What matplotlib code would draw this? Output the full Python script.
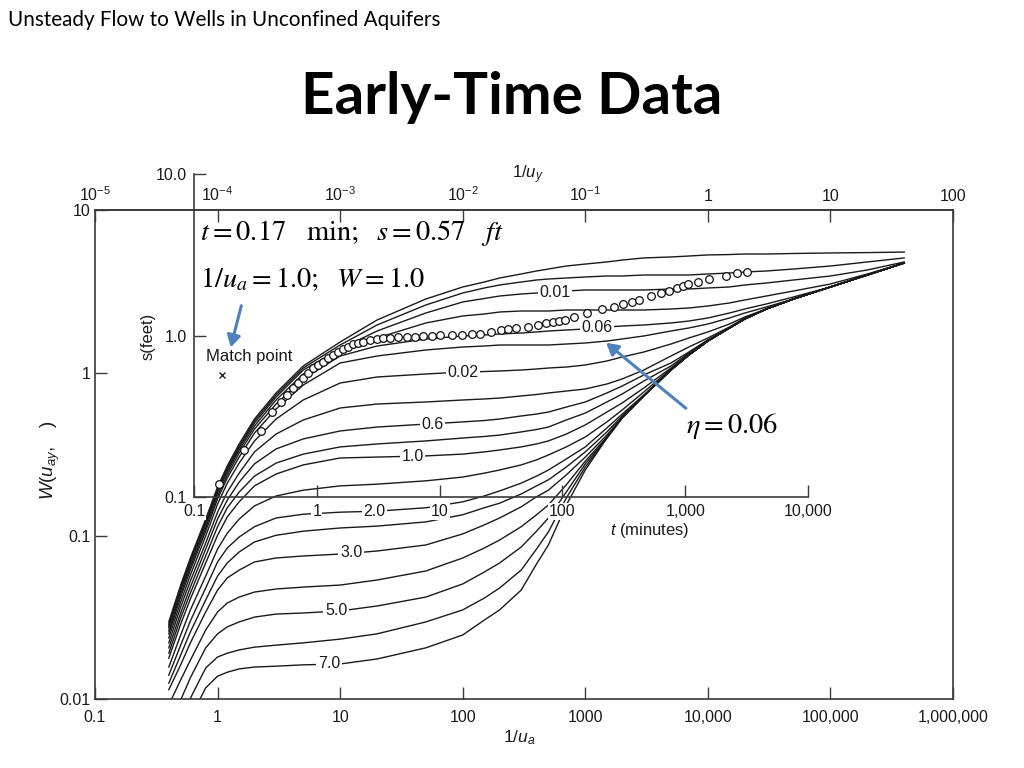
import matplotlib
matplotlib.use("Agg")
import matplotlib.pyplot as plt
from matplotlib.ticker import NullLocator
from matplotlib.patches import FancyArrowPatch

plt.rcParams['font.family'] = ['Liberation Sans', 'DejaVu Sans']
plt.rcParams['mathtext.fontset'] = 'custom'
plt.rcParams['mathtext.rm'] = 'Liberation Sans'
plt.rcParams['mathtext.it'] = 'Liberation Sans:italic'
plt.rcParams['mathtext.bf'] = 'Liberation Sans:bold'

# ---------------- data ----------------
inv_ua = [0.4, 0.5, 0.6, 0.8, 1, 1.2, 1.5, 2, 3, 5, 10,
          20, 50, 100, 150, 200, 300, 400, 500, 700, 1000,
          1500, 2000, 3000, 5000, 7000, 1e4, 1.5e4, 2e4, 3e4, 5e4, 1e5, 2e5, 4e5]

w_eta_0_001 = [0.0297, 0.0500, 0.0733, 0.127, 0.200, 0.269, 0.367, 0.522, 0.754, 1.104, 1.549,
               2.114, 2.844, 3.371, 3.616, 3.826, 4.050, 4.225, 4.345, 4.532, 4.66,
               4.80, 4.93, 5.08, 5.15, 5.22, 5.30, 5.33, 5.37, 5.37, 5.41, 5.45, 5.48, 5.52]
w_eta_0_004 = [0.0288, 0.0486, 0.0712, 0.124, 0.194, 0.261, 0.356, 0.508, 0.733, 1.073, 1.485,
               1.970, 2.614, 3.096, 3.323, 3.467, 3.616, 3.72, 3.773, 3.826, 3.882,
               3.937, 3.937, 3.993, 3.993, 3.993, 4.050, 4.107, 4.165, 4.225, 4.345, 4.532, 4.80, 5.08]
w_eta_0_01 = [0.0280, 0.0473, 0.0693, 0.120, 0.189, 0.254, 0.347, 0.493, 0.712, 1.043, 1.404,
              1.810, 2.334, 2.727, 2.865, 2.967, 3.052, 3.096, 3.140, 3.185, 3.230,
              3.230, 3.230, 3.230, 3.276, 3.276, 3.323, 3.371, 3.467, 3.566, 3.72, 3.937, 4.285, 4.80]
w_eta_0_03 = [0.0273, 0.0460, 0.0673, 0.117, 0.184, 0.247, 0.337, 0.473, 0.683, 0.986, 1.326,
              1.640, 2.027, 2.238, 2.301, 2.367, 2.401, 2.401, 2.401, 2.435, 2.435,
              2.435, 2.435, 2.435, 2.470, 2.505, 2.576, 2.689, 2.805, 2.967, 3.185, 3.516, 4.050, 4.73]
w_eta_0_06 = [0.0261, 0.0441, 0.0645, 0.112, 0.176, 0.237, 0.323, 0.453, 0.645, 0.919, 1.271,
              1.464, 1.617, 1.687, 1.711, 1.735, 1.759, 1.785, 1.810, 1.836, 1.862,
              1.915, 1.942, 1.970, 2.027, 2.084, 2.175, 2.334, 2.470, 2.651, 2.927, 3.371, 3.993, 4.73]
w_eta_0_1 = [0.0251, 0.0422, 0.0618, 0.107, 0.169, 0.227, 0.305, 0.428, 0.601, 0.844, 1.152,
             1.271, 1.384, 1.444, 1.464, 1.485, 1.485, 1.485, 1.485, 1.506, 1.528,
             1.571, 1.617, 1.687, 1.810, 1.889, 1.998, 2.175, 2.334, 2.541, 2.844, 3.371, 3.993, 4.73]
w_eta_0_2 = [0.0237, 0.0394, 0.0576, 0.100, 0.157, 0.211, 0.280, 0.383, 0.522, 0.683, 0.868,
             0.945, 0.986, 1.014, 1.021, 1.029, 1.043, 1.058, 1.073, 1.088, 1.120,
             1.185, 1.254, 1.345, 1.506, 1.640, 1.785, 1.998, 2.206, 2.470, 2.844, 3.371, 3.993, 4.73]
w_eta_0_4 = [0.0221, 0.0367, 0.0530, 0.0906, 0.140, 0.186, 0.243, 0.328, 0.422, 0.515, 0.610,
             0.645, 0.664, 0.683, 0.693, 0.702, 0.723, 0.738, 0.754, 0.775, 0.798,
             0.856, 0.919, 1.043, 1.271, 1.444, 1.640, 1.915, 2.175, 2.470, 2.844, 3.371, 3.993, 4.73]
w_eta_0_6 = [0.0206, 0.0337, 0.0486, 0.0832, 0.127, 0.166, 0.214, 0.277, 0.342, 0.394, 0.441,
             0.466, 0.486, 0.501, 0.511, 0.522, 0.545, 0.560, 0.576, 0.618, 0.664,
             0.754, 0.832, 0.972, 1.152, 1.345, 1.594, 1.889, 2.145, 2.470, 2.844, 3.371, 3.993, 4.73]
w_eta_0_8 = [0.0191, 0.0314, 0.0447, 0.0754, 0.114, 0.149, 0.186, 0.233, 0.280, 0.318, 0.352,
             0.367, 0.383, 0.399, 0.408, 0.416, 0.435, 0.450, 0.466, 0.515, 0.568,
             0.664, 0.743, 0.893, 1.104, 1.326, 1.594, 1.889, 2.145, 2.470, 2.844, 3.371, 3.993, 4.73]
w_eta_1_0 = [0.0178, 0.0288, 0.0411, 0.0683, 0.101, 0.131, 0.162, 0.203, 0.240, 0.273, 0.301,
             0.305, 0.310, 0.318, 0.328, 0.337, 0.352, 0.367, 0.383, 0.422, 0.480,
             0.576, 0.655, 0.809, 1.073, 1.308, 1.571, 1.889, 2.145, 2.470, 2.844, 3.371, 3.993, 4.73]
w_eta_1_5 = [0.0157, 0.0247, 0.0352, 0.0568, 0.0832, 0.104, 0.127, 0.153, 0.176, 0.191, 0.203,
             0.208, 0.218, 0.230, 0.243, 0.254, 0.273, 0.293, 0.314, 0.352, 0.405,
             0.501, 0.593, 0.764, 1.058, 1.289, 1.571, 1.889, 2.145, 2.470, 2.844, 3.371, 3.993, 4.73]
w_eta_2_0 = [0.0140, 0.0214, 0.0301, 0.0480, 0.0693, 0.0844, 0.0986, 0.114, 0.129, 0.136, 0.140,
             0.142, 0.149, 0.162, 0.176, 0.189, 0.211, 0.233, 0.254, 0.297, 0.352,
             0.460, 0.560, 0.733, 1.043, 1.289, 1.571, 1.889, 2.145, 2.470, 2.844, 3.371, 3.993, 4.73]
w_eta_2_5 = [0.0125, 0.0186, 0.0258, 0.0405, 0.0568, 0.0683, 0.0798, 0.0919, 0.101, 0.107, 0.112,
             0.115, 0.122, 0.135, 0.149, 0.159, 0.181, 0.203, 0.221, 0.265, 0.328,
             0.435, 0.545, 0.723, 1.043, 1.289, 1.571, 1.889, 2.145, 2.470, 2.844, 3.371, 3.993, 4.73]
w_eta_3_0 = [0.0114, 0.0162, 0.0221, 0.0342, 0.0466, 0.0553, 0.0618, 0.0693, 0.0733, 0.0754, 0.0775,
             0.0809, 0.0881, 0.103, 0.117, 0.129, 0.151, 0.174, 0.191, 0.237, 0.305,
             0.416, 0.537, 0.723, 1.043, 1.289, 1.571, 1.889, 2.145, 2.470, 2.844, 3.371, 3.993, 4.73]
w_eta_4_0 = [0.00919, 0.0131, 0.0173, 0.0265, 0.0342, 0.0388, 0.0422, 0.0453, 0.0473, 0.0486, 0.0500,
             0.0537, 0.0610, 0.0733, 0.0844, 0.0945, 0.114, 0.135, 0.155, 0.206, 0.288,
             0.405, 0.530, 0.723, 1.043, 1.289, 1.571, 1.889, 2.145, 2.470, 2.844, 3.371, 3.993, 4.73]
w_eta_5_0 = [0.00743, 0.00986, 0.0135, 0.0206, 0.0251, 0.0277, 0.0297, 0.0318, 0.0332, 0.0337, 0.0347,
             0.0372, 0.0422, 0.0508, 0.0601, 0.0683, 0.0856, 0.107, 0.129, 0.186, 0.277,
             0.399, 0.530, 0.723, 1.043, 1.289, 1.571, 1.889, 2.145, 2.470, 2.844, 3.371, 3.993, 4.73]
w_eta_6_0 = [0.00560, 0.00765, 0.0101, 0.0155, 0.0181, 0.0191, 0.0200, 0.0208, 0.0214, 0.0221, 0.0233,
             0.0251, 0.0297, 0.0352, 0.0416, 0.0480, 0.0618, 0.0832, 0.106, 0.171, 0.265,
             0.399, 0.530, 0.723, 1.043, 1.289, 1.571, 1.889, 2.145, 2.470, 2.844, 3.371, 3.993, 4.73]
w_eta_7_0 = [0.00422, 0.00576, 0.00765, 0.0117, 0.0138, 0.0146, 0.0153, 0.0157, 0.0159, 0.0162, 0.0164,
             0.0176, 0.0206, 0.0247, 0.0305, 0.0352, 0.0466, 0.0673, 0.0881, 0.155, 0.254,
             0.399, 0.530, 0.723, 1.043, 1.289, 1.571, 1.889, 2.145, 2.470, 2.844, 3.371, 3.993, 4.73]

# observed drawdown data (time in minutes, drawdown in feet)
t_obs = [0.160, 0.255, 0.351, 0.431, 0.511, 0.572, 0.640, 0.703, 0.773, 0.848, 0.932, 1.02,
         1.12, 1.23, 1.36, 1.49, 1.63, 1.80, 1.97, 2.17, 2.38, 2.71, 3.09, 3.46, 3.94, 4.58,
         5.43, 6.31, 7.33, 8.67, 10.1, 12.6, 15.2, 18.4, 21.3, 26.2, 31.7, 36.1, 41.9, 52.5,
         63.3, 73.5, 83.8, 93.7, 105, 124, 158, 210, 263, 311, 369, 421, 527, 635, 738, 858,
         960, 1054, 1271, 1563, 2148, 2642, 3186]
s_obs = [0.120, 0.195, 0.256, 0.336, 0.388, 0.428, 0.473, 0.508, 0.546, 0.586, 0.630, 0.656,
         0.685, 0.726, 0.757, 0.791, 0.825, 0.849, 0.885, 0.899, 0.912, 0.938, 0.951, 0.965,
         0.969, 0.979, 0.979, 0.983, 0.993, 0.993, 1.007, 1.007, 1.007, 1.02, 1.02, 1.05, 1.08,
         1.10, 1.11, 1.13, 1.16, 1.19, 1.21, 1.23, 1.25, 1.30, 1.38, 1.46, 1.50, 1.57, 1.61,
         1.66, 1.76, 1.83, 1.89, 1.97, 2.03, 2.08, 2.14, 2.24, 2.34, 2.44, 2.47]

match_t, match_s = 0.17, 0.57

curve_labels = ["0.01", "0.06", "0.02", "0.6", "1.0", "2.0", "3.0", "5.0", "7.0"]
main_xticks = [0.1, 1, 10, 100, 1000, 1e4, 1e5, 1e6]
main_xticklabels = ["0.1", "1", "10", "100", "1000", "10,000", "100,000", "1,000,000"]
main_yticks = [0.01, 0.1, 1, 10]
main_yticklabels = ["0.01", "0.1", "1", "10"]
top_ticks = [1e-5, 1e-4, 1e-3, 1e-2, 1e-1, 1, 10, 100]
top_ticklabels = [r"$10^{-5}$", r"$10^{-4}$", r"$10^{-3}$", r"$10^{-2}$", r"$10^{-1}$", "1", "10", "100"]
inner_xticks = [0.1, 1, 10, 100, 1000, 1e4]
inner_xticklabels = ["0.1", "1", "10", "100", "1,000", "10,000"]
inner_yticks = [0.1, 1, 10]
inner_yticklabels = ["0.1", "1.0", "10.0"]

curves = [w_eta_0_001, w_eta_0_004, w_eta_0_01, w_eta_0_03, w_eta_0_06, w_eta_0_1,
          w_eta_0_2, w_eta_0_4, w_eta_0_6, w_eta_0_8, w_eta_1_0, w_eta_1_5, w_eta_2_0,
          w_eta_2_5, w_eta_3_0, w_eta_4_0, w_eta_5_0, w_eta_6_0, w_eta_7_0]

# ---------------- layout ----------------
WPX, HPX = 1024, 768
fig = plt.figure(figsize=(WPX / 100, HPX / 100), dpi=100)
fig.patch.set_facecolor('white')


def box(l, t, r, b):
    return [l / WPX, 1 - b / HPX, (r - l) / WPX, (b - t) / HPX]


def fx(px):
    return px / WPX


def fy(py):
    return 1 - py / HPX


TXT = '#1a1a1a'
SPINE = '#3a3a3a'

# main axes
ax = fig.add_axes(box(95, 210, 953, 699))
ax.set_xscale('log')
ax.set_yscale('log')
for w in curves:
    ax.plot(inv_ua, w, color='#1a1a1a', lw=1.0, solid_joinstyle='round', zorder=2)
ax.set_xlim(0.1, 1e6)
ax.set_ylim(0.01, 10)
ax.set_xticks(main_xticks)
ax.set_xticklabels(main_xticklabels)
ax.set_yticks(main_yticks)
ax.set_yticklabels(main_yticklabels)
ax.xaxis.set_minor_locator(NullLocator())
ax.yaxis.set_minor_locator(NullLocator())
ax.tick_params(direction='in', length=8.5, width=1.0, color=SPINE, labelsize=11.5,
               labelcolor=TXT, top=False, right=False)
ax.tick_params(axis='x', pad=8)
ax.tick_params(axis='y', pad=3.5)
for s in ax.spines.values():
    s.set_color(SPINE)
    s.set_linewidth(1.2)

# curve labels (on curves, white background)
label_pos = [(567, 3.14), (1254, 1.89), (100, 1.014), (56.8, 0.486), (38.9, 0.308),
             (19, 0.142), (12.3, 0.079), (9.27, 0.0347), (8.1, 0.0164)]
for txt, (lx, ly) in zip(curve_labels, label_pos):
    ax.text(lx, ly, txt, ha='center', va='center', fontsize=11.5, color=TXT, zorder=5,
            bbox=dict(facecolor='white', edgecolor='none', pad=1.2))

# top secondary axis 1/u_y
secax = ax.secondary_xaxis('top', functions=(lambda x: x * 1e-4, lambda x: x * 1e4))
secax.set_xticks(top_ticks)
secax.set_xticklabels(top_ticklabels)
secax.xaxis.set_minor_locator(NullLocator())
secax.tick_params(direction='in', length=8.5, width=1.0, color=SPINE, labelsize=11.5,
                  labelcolor=TXT, pad=4)
secax.spines['top'].set_color(SPINE)
secax.spines['top'].set_linewidth(1.2)

# inner axes (field data)
axi = fig.add_axes(box(194, 174, 808, 497))
axi.set_zorder(3)
axi.patch.set_visible(False)
axi.set_xscale('log')
axi.set_yscale('log')
axi.plot(t_obs, s_obs, 'o', ms=5.5, mfc='white', mec='#111111', mew=0.9, zorder=4)
axi.plot([match_t], [match_s], 'x', ms=4.5, color='#111111', mew=0.9)
axi.set_xlim(0.1, 1e4)
axi.set_ylim(0.1, 10)
axi.set_xticks(inner_xticks)
axi.set_xticklabels(inner_xticklabels)
axi.set_yticks(inner_yticks)
axi.set_yticklabels(inner_yticklabels)
axi.xaxis.set_minor_locator(NullLocator())
axi.yaxis.set_minor_locator(NullLocator())
axi.tick_params(direction='in', length=8.5, width=1.0, color=SPINE, labelsize=11.5,
                labelcolor=TXT, pad=5)
for k in ['top', 'right']:
    axi.spines[k].set_visible(False)
for k in ['left', 'bottom']:
    axi.spines[k].set_color(SPINE)
    axi.spines[k].set_linewidth(1.2)
for lab in axi.get_xticklabels():
    lab.set_bbox(dict(facecolor='white', edgecolor='none', pad=0.8))

# axis labels
fig.text(fx(148), fy(336), 's(feet)', rotation=90, ha='center', va='center', fontsize=12, color=TXT)
fig.text(fx(650), fy(531), r'$t$ (minutes)', ha='center', va='center', fontsize=12, color=TXT)
fig.text(fx(50), fy(460), r'$W(u_{ay},\ \ \ )$', rotation=90, ha='center', va='center', fontsize=13.5, color=TXT)
fig.text(fx(519), fy(738), r'$1/u_a$', ha='center', va='center', fontsize=12.5, color=TXT)
fig.text(fx(528), fy(175), r'$1/u_y$', ha='center', va='center', fontsize=12, color=TXT)
fig.text(fx(249), fy(357), 'Match point', ha='center', va='center', fontsize=12, color=TXT)

# slide texts
fig.text(fx(8), fy(20), 'Unsteady Flow to Wells in Unconfined Aquifers', ha='left', va='center',
         fontsize=14.9, family=['Lato', 'DejaVu Sans'], color='black')
fig.text(fx(512), fy(98), 'Early-Time Data', ha='center', va='center', fontsize=42,
         family=['Lato', 'DejaVu Sans'], fontweight='bold', color='black')

# match annotations (serif)
fig.text(fx(200), fy(233), r'$t = 0.17\ \ \ \mathrm{min};\ \ s = 0.57\ \ \ ft$', ha='left', va='center',
         fontsize=20.5, math_fontfamily='stix', color='black')
fig.text(fx(200), fy(279), r'$1/u_a = 1.0;\ \ W = 1.0$', ha='left', va='center',
         fontsize=20.5, math_fontfamily='stix', color='black')
fig.text(fx(686), fy(426), r'$\eta = 0.06$', ha='left', va='center',
         fontsize=20.5, math_fontfamily='stix', color='black')

# blue arrows
blue = '#4F81BD'
fig.add_artist(FancyArrowPatch(
    (fx(242), fy(303)), (fx(230), fy(350)), transform=fig.transFigure,
    arrowstyle='-|>,head_length=7,head_width=4', color=blue, lw=2.2, mutation_scale=1, zorder=10))
fig.add_artist(FancyArrowPatch(
    (fx(688), fy(410)), (fx(604), fy(341)), transform=fig.transFigure,
    arrowstyle='-|>,head_length=7,head_width=4', color=blue, lw=2.2, mutation_scale=1, zorder=10))

fig.savefig('out.png', dpi=100, facecolor='white')
